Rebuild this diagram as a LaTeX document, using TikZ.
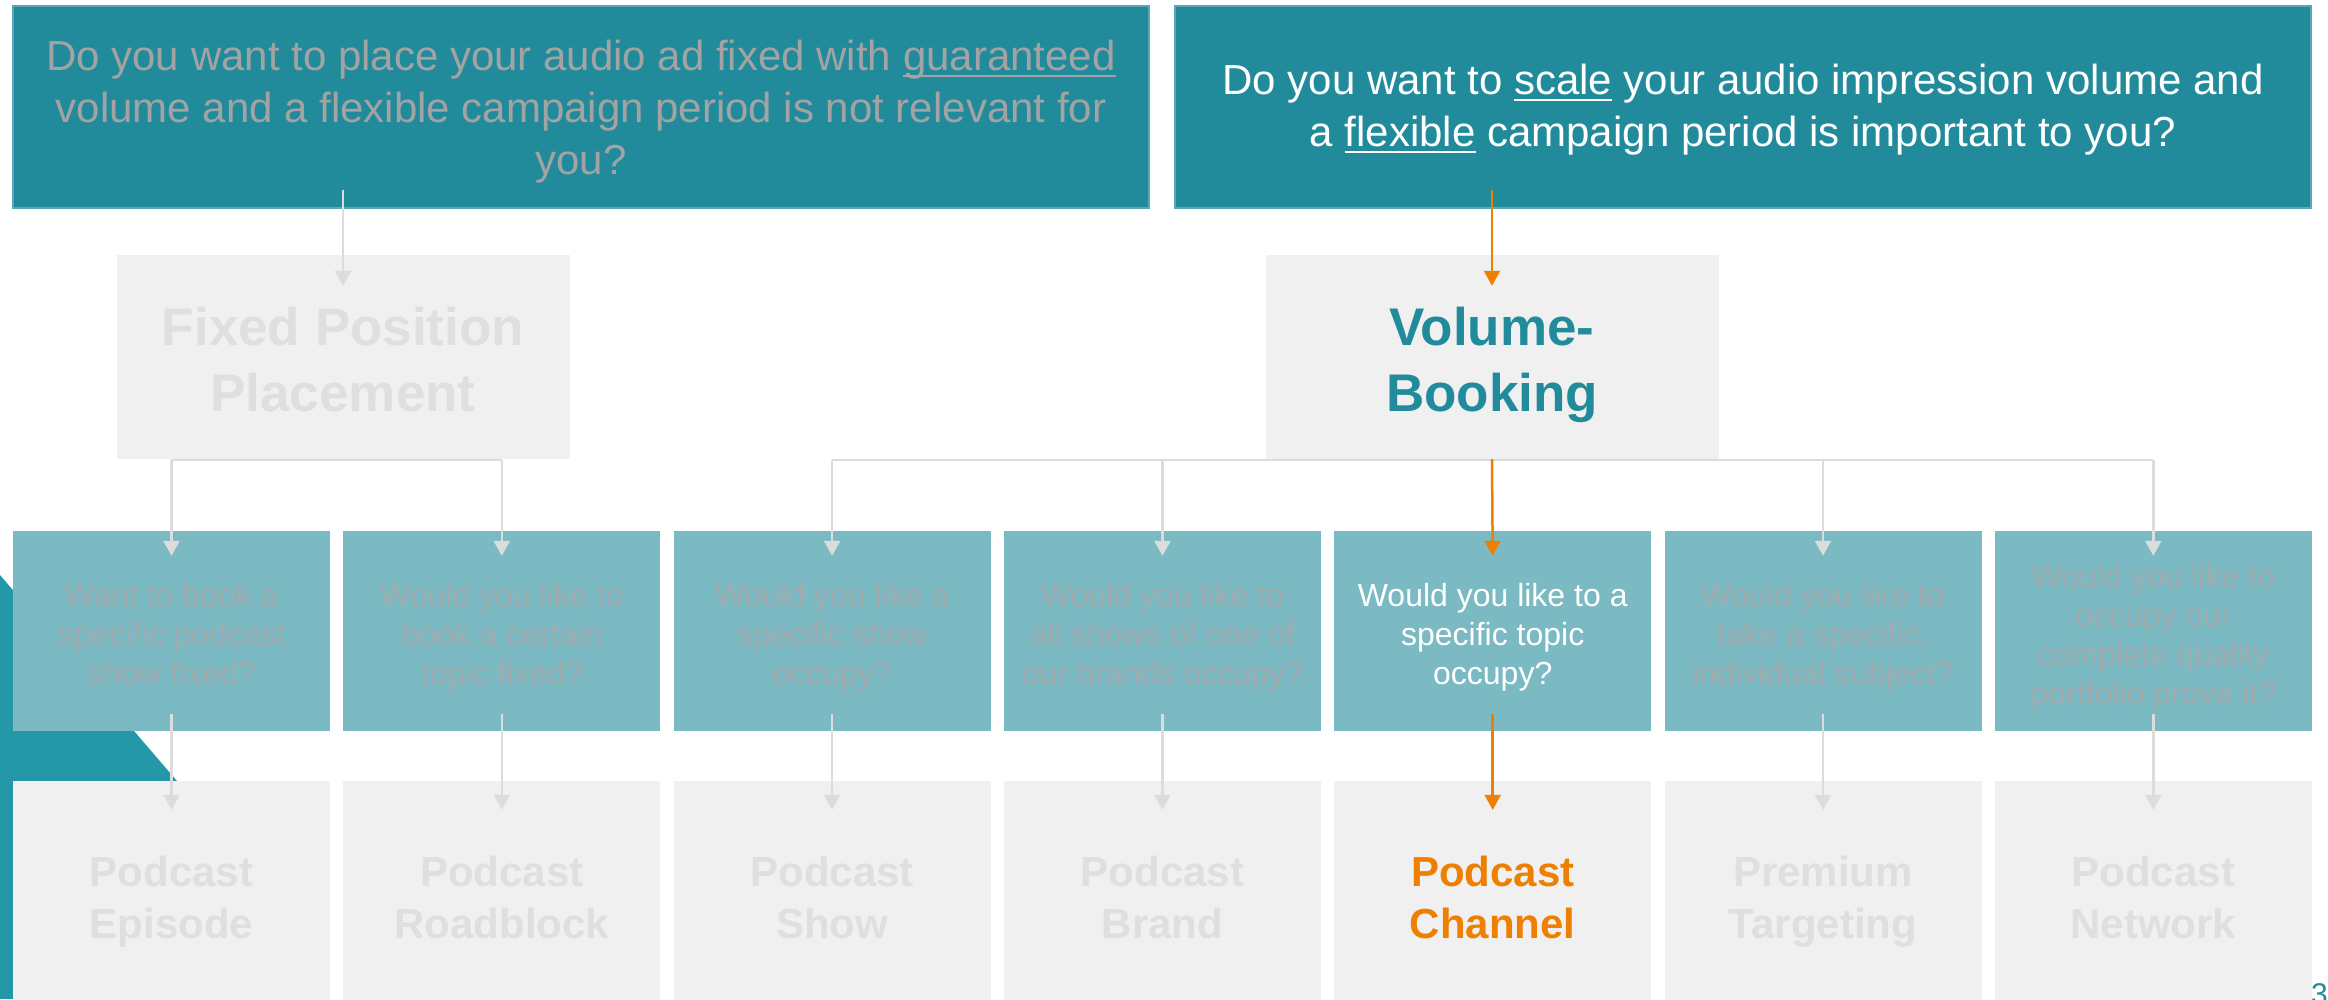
\documentclass[tikz,border=0pt]{standalone}
\usepackage{fontspec}
\setmainfont{Liberation Sans}
\usetikzlibrary{arrows.meta,calc}
\definecolor{topteal}{HTML}{218B9B}
\definecolor{topline}{HTML}{5AA8B6}
\definecolor{triteal}{HTML}{2497A9}
\definecolor{midteal}{HTML}{7BB9C3}
\definecolor{lightbox}{HTML}{F0F0F0}
\definecolor{fadebold}{HTML}{DFDFDF}
\definecolor{fademid}{HTML}{A2ACAF}
\definecolor{fadetop}{HTML}{A3A3A3}
\definecolor{connc}{HTML}{DCDCDC}
\definecolor{orng}{HTML}{EE7F00}
\newcommand\ulx[1]{\setbox0\hbox{#1}\rlap{\rule[-0.16em]{\wd0}{0.05em}}\box0\relax}
\newcommand\myTopStrut{\rule{0pt}{40pt}}
\newcommand\myTopStrutB{\rule{0pt}{35pt}}
\newcommand\myProdStrut{\rule{0pt}{55pt}}
\newcommand\myMidStrut{\rule{0pt}{36pt}}
\newcommand\myDp{\vphantom{gy}}
\begin{document}
\begin{tikzpicture}[x=1pt,y=-1pt,
  topbox/.style={draw=topline, line width=1.2pt, fill=topteal, minimum width=1136pt, minimum height=202pt, inner sep=0pt, align=center, font=\fontsize{42}{52}\selectfont},
  prodbox/.style={fill=lightbox, minimum width=453pt, minimum height=204pt, inner sep=0pt, align=center, font=\fontsize{53}{66}\selectfont\bfseries},
  qbox/.style={fill=midteal, minimum width=317pt, minimum height=200pt, inner sep=0pt, align=center, text=fademid, font=\fontsize{32}{39}\selectfont},
  leafbox/.style={fill=lightbox, minimum width=317pt, minimum height=242pt, inner sep=0pt, align=center, text=fadebold, font=\fontsize{42}{52}\selectfont\bfseries},
  conn/.style={draw=connc, line width=2.5pt},
  arr/.style={-{Triangle[length=15pt,width=16pt]}},
  hot/.style={draw=orng}
]
\useasboundingbox (0,0) rectangle (2328,999);
% decorative teal wedge
\fill[triteal] (0,575) -- (177,781) -- (177,999) -- (0,999) -- cycle;

% top questions
\node[topbox, text=fadetop] (tl) at (581,107) {\myTopStrut Do you want to place your audio ad fixed with \ulx{guaranteed}\\volume and a flexible campaign period is not relevant for\\you?};
\node[topbox, text=white] (tr) at (1743,107) {\myTopStrutB Do you want to \ulx{scale} your audio impression volume and\\a \ulx{flexible} campaign period is important to you?};

% product types
\node[prodbox, text=fadebold] (fx) at (343,357) {\myProdStrut Fixed Position\\Placement\myDp};
\node[prodbox, text=topteal] (vb) at (1492,357) {\myProdStrut Volume-\\Booking\myDp};

% middle questions
\node[qbox] (m1) at (171.5,631) {\myMidStrut Want to book a\\specific podcast\\show fixed?\myDp};
\node[qbox] (m2) at (501.8,631) {\myMidStrut Would you like to\\book a certain\\topic fixed?\myDp};
\node[qbox] (m3) at (832.1,631) {\myMidStrut Would you like a\\specific show\\occupy?\myDp};
\node[qbox] (m4) at (1162.4,631) {\myMidStrut Would you like to\\all shows of one of\\our brands occupy?\myDp};
\node[qbox, text=white] (m5) at (1492.7,631) {\myMidStrut Would you like to a\\specific topic\\occupy?\myDp};
\node[qbox] (m6) at (1823.0,631) {\myMidStrut Would you like to\\take a specific,\\individual subject?\myDp};
\node[qbox] (m7) at (2153.3,631) {\myMidStrut Would you like to\\occupy our\\complete quality\\portfolio prove it?\myDp};

% leaf products (boxes run past the lower page edge)
\node[leafbox] (b1) at (171.5,902) {Podcast\\Episode\myDp};
\node[leafbox] (b2) at (501.8,902) {Podcast\\Roadblock\myDp};
\node[leafbox] (b3) at (832.1,902) {Podcast\\Show\myDp};
\node[leafbox] (b4) at (1162.4,902) {Podcast\\Brand\myDp};
\node[leafbox, text=orng] (b5) at (1492.7,902) {Podcast\\Channel\myDp};
\node[leafbox] (b6) at (1823.0,902) {Premium\\Targeting\myDp};
\node[leafbox] (b7) at (2153.3,902) {Podcast\\Network\myDp};

% page number
\node[anchor=north west, inner sep=0pt, text=topteal, font=\fontsize{30}{36}\selectfont] (pg) at (2311,983) {35};

% connectors: top -> product
\draw[conn, arr] ($(fx.north)+(0,-65)$) -- ($(fx.north)+(0,31)$);
\draw[conn, hot, arr] ($(vb.north)+(0,-65)$) -- ($(vb.north)+(0,31)$);

% product -> middle questions
\coordinate (hy) at (0,460);
\draw[conn] (m1.north |- hy) -- (m2.north |- hy);
\draw[conn] (m3.north |- hy) -- (m7.north |- hy);
\foreach \m in {m1,m2,m3,m4,m6,m7}{
  \draw[conn, arr] (\m.north |- hy) -- ($(\m.north)+(0,25)$);
}
\draw[conn, hot, arr] (vb.south) -- ($(m5.north)+(0,25)$);

% middle -> leaves
\foreach \i in {1,2,3,4,6,7}{
  \draw[conn, arr] ($(m\i.south)+(0,-17)$) -- ($(b\i.north)+(0,29)$);
}
\draw[conn, hot, arr] ($(m5.south)+(0,-17)$) -- ($(b5.north)+(0,29)$);
\end{tikzpicture}
\end{document}
